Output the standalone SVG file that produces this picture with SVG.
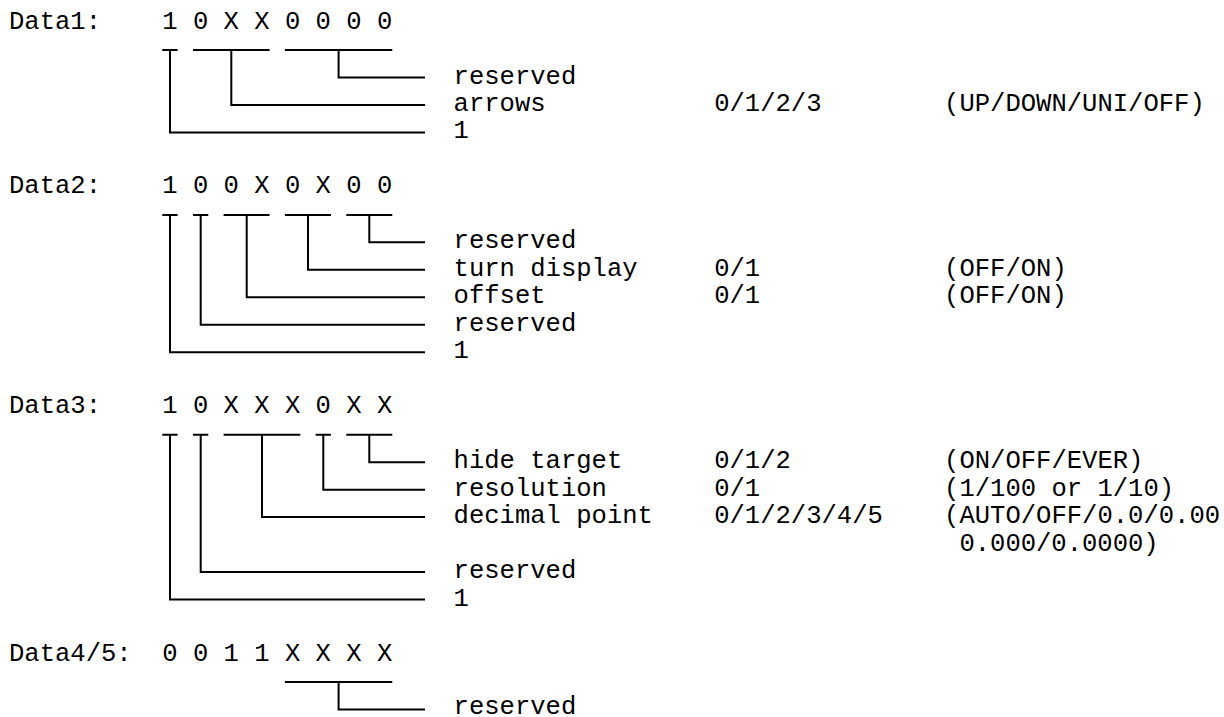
<svg xmlns="http://www.w3.org/2000/svg" width="1224" height="717" viewBox="0 0 1224 717">
<style>
text{font-family:"Nimbus Mono PS","Courier New","Liberation Mono",monospace;font-size:25.55px;fill:#000;white-space:pre}
.c{fill:none;stroke:#000;stroke-width:2;stroke-linejoin:miter;stroke-linecap:butt}
</style>
<rect width="1224" height="717" fill="#fff"/>
<g id="data1">
<text x="9" y="28.5">Data1:</text>
<text x="162.3" y="28.5">1 0 X X 0 0 0 0</text>
<text x="453.6" y="83.5">reserved</text>
<text x="453.6" y="110.9">arrows</text>
<text x="714.2" y="110.9">0/1/2/3</text>
<text x="944.1" y="110.9">(UP/DOWN/UNI/OFF)</text>
<text x="453.6" y="138.4">1</text>
</g>
<g id="data2">
<text x="9" y="193.4">Data2:</text>
<text x="162.3" y="193.4">1 0 0 X 0 X 0 0</text>
<text x="453.6" y="248.3">reserved</text>
<text x="453.6" y="275.8">turn display</text>
<text x="714.2" y="275.8">0/1</text>
<text x="944.1" y="275.8">(OFF/ON)</text>
<text x="453.6" y="303.3">offset</text>
<text x="714.2" y="303.3">0/1</text>
<text x="944.1" y="303.3">(OFF/ON)</text>
<text x="453.6" y="330.8">reserved</text>
<text x="453.6" y="358.3">1</text>
</g>
<g id="data3">
<text x="9" y="413.2">Data3:</text>
<text x="162.3" y="413.2">1 0 X X X 0 X X</text>
<text x="453.6" y="468.2">hide target</text>
<text x="714.2" y="468.2">0/1/2</text>
<text x="944.1" y="468.2">(ON/OFF/EVER)</text>
<text x="453.6" y="495.7">resolution</text>
<text x="714.2" y="495.7">0/1</text>
<text x="944.1" y="495.7">(1/100 or 1/10)</text>
<text x="453.6" y="523.1">decimal point</text>
<text x="714.2" y="523.1">0/1/2/3/4/5</text>
<text x="944.1" y="523.1">(AUTO/OFF/0.0/0.00</text>
<text x="959.4" y="550.6">0.000/0.0000)</text>
<text x="453.6" y="578.1">reserved</text>
<text x="453.6" y="605.6">1</text>
</g>
<g id="data45">
<text x="9" y="660.5">Data4/5:</text>
<text x="162.3" y="660.5">0 0 1 1 X X X X</text>
<text x="453.6" y="713.5">reserved</text>
</g>
<g id="connectors">
<path class="c" d="M162.3 50H177.6M193 50H269.6M284.9 50H392.3"/>
<path class="c" d="M338.6 50V77.5H425M231.3 50V104.9H425M170 50V132.4H425"/>
<path class="c" d="M162.3 214.9H177.6M193 214.9H208.3M223.6 214.9H269.6M284.9 214.9H330.9M346.3 214.9H392.3"/>
<path class="c" d="M369.3 214.9V242.3H425M308 214.9V269.8H425M246.7 214.9V297.3H425M200.7 214.9V324.8H425M170 214.9V352.3H425"/>
<path class="c" d="M162.3 434.7H177.6M193 434.7H208.3M223.6 434.7H300.3M315.6 434.7H330.9M346.3 434.7H392.3"/>
<path class="c" d="M369.3 434.7V462.2H425M323.3 434.7V489.7H425M262 434.7V517.1H425M200.7 434.7V572.1H425M170 434.7V599.6H425"/>
<path class="c" d="M284.9 682H392.3"/>
<path class="c" d="M338.6 682V709.5H425"/>
</g>
</svg>
